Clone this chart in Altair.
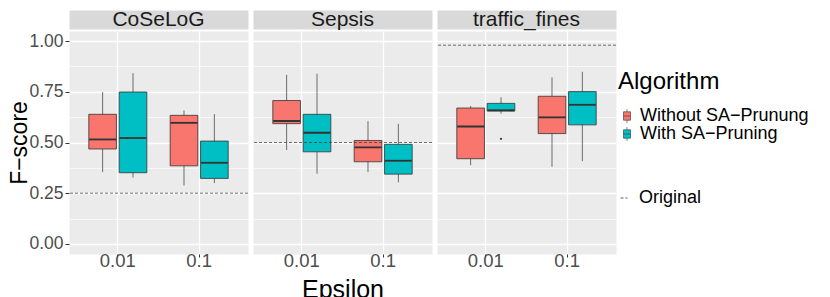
import altair as alt
import pandas as pd

FONT = "Liberation Sans"

datasets = ["CoSeLoG", "Sepsis", "traffic_fines"]
epsilons = ["0.01", "0.1"]
algorithms = ["Without SA−Prunung", "With SA−Pruning"]

# one row per box: dataset, epsilon, algorithm
box_dataset = ["CoSeLoG"] * 4 + ["Sepsis"] * 4 + ["traffic_fines"] * 4
box_eps = ["0.01", "0.01", "0.1", "0.1"] * 3
box_alg = [algorithms[0], algorithms[1]] * 6
box_lower = [0.354, 0.327, 0.288, 0.300, 0.463, 0.346, 0.354, 0.304, 0.388, 0.642, 0.380, 0.408]
box_q1 = [0.468, 0.351, 0.385, 0.323, 0.593, 0.454, 0.405, 0.344, 0.420, 0.655, 0.544, 0.587]
box_median = [0.515, 0.522, 0.597, 0.400, 0.606, 0.548, 0.476, 0.410, 0.579, 0.659, 0.624, 0.686]
box_q3 = [0.639, 0.749, 0.634, 0.507, 0.707, 0.639, 0.510, 0.491, 0.670, 0.693, 0.728, 0.751]
box_upper = [0.749, 0.842, 0.658, 0.640, 0.834, 0.839, 0.605, 0.592, 0.680, 0.723, 0.821, 0.849]

outlier_dataset = ["traffic_fines"]
outlier_eps = ["0.01"]
outlier_alg = [algorithms[1]]
outlier_value = [0.518]

original_value = [0.25, 0.50, 0.98]

df = pd.DataFrame({
    "dataset": box_dataset, "eps": box_eps, "alg": box_alg,
    "lower": box_lower, "q1": box_q1, "median": box_median,
    "q3": box_q3, "upper": box_upper,
})
out_df = pd.DataFrame({"dataset": outlier_dataset, "eps": outlier_eps,
                       "alg": outlier_alg, "value": outlier_value})
orig_df = pd.DataFrame({"dataset": datasets, "orig": original_value,
                        "kind": ["Original"] * len(datasets)})

PW, PH, SH = 179, 223, 19
DARK = "#333333"
yvals = [i * 0.125 for i in range(9)]
major_test = "datum.value % 0.25 == 0"
ysc = alt.Scale(domain=[-0.05, 1.05], nice=False, zero=False)

BOX_PATH = ("M-0.5,-0.6H0.5V0.6H-0.5Z M-0.5,0H0.5 M0,-0.6V-1 M0,0.6V1")

leg_alg = alt.Legend(title="Algorithm", orient="none", legendX=549, legendY=60,
                     symbolType=BOX_PATH, symbolSize=196, symbolStrokeColor=DARK,
                     symbolStrokeWidth=0.6, labelFontSize=18, titleFontSize=24,
                     titleFontWeight="normal", titlePadding=13, labelOffset=4,
                     rowPadding=0, padding=0, labelColor="black", titleColor="black",
                     labelFont=FONT, titleFont=FONT, symbolOpacity=1, labelLimit=260)
leg_orig = alt.Legend(title=None, orient="none", legendX=546, legendY=179,
                      symbolType="stroke", symbolSize=49, symbolStrokeColor=DARK,
                      symbolStrokeWidth=0.8, labelFontSize=18, labelOffset=6,
                      padding=0, labelColor="black", labelFont=FONT, labelLimit=260)


def y_axis(first):
    grid_w = {"condition": {"test": major_test, "value": 1.3}, "value": 0.6}
    if first:
        return alt.Axis(values=yvals,
                        labelExpr="datum.value % 0.25 == 0 ? format(datum.value, '.2f') : ''",
                        grid=True, gridColor="white", gridWidth=grid_w,
                        tickColor=DARK, tickSize=4, tickWidth=1,
                        tickOpacity={"condition": {"test": major_test, "value": 1}, "value": 0},
                        labelPadding=2, labelFontSize=17.5, labelColor="#4D4D4D",
                        labelFont=FONT, titleFont=FONT,
                        titleFontSize=23, titleFontWeight="normal", titleColor="black",
                        titlePadding=-3, domain=False)
    return alt.Axis(values=yvals, labels=False, ticks=False, domain=False,
                    grid=True, gridColor="white", gridWidth=grid_w)


def x_axis():
    return alt.Axis(labelAngle=0, grid=True, gridColor="white", gridWidth=1.3,
                    bandPosition=0.5, tickColor=DARK, tickSize=3, labelFontSize=18.5,
                    labelColor="#4D4D4D", labelBaseline="alphabetic", labelPadding=9,
                    domain=False, labelFont=FONT, titleFont=FONT,
                    titleFontSize=25, titleFontWeight="normal", titleColor="black",
                    titlePadding=8)


def panel(i, name):
    first = i == 0
    xt = "Epsilon" if i == 1 else None
    yt = "F−score" if first else None
    ya = y_axis(first)
    x = alt.X("eps:N", scale=alt.Scale(domain=epsilons, paddingInner=0.287, paddingOuter=0.2435),
              axis=x_axis(), title=xt)
    xo = alt.XOffset("alg:N", scale=alt.Scale(domain=algorithms, paddingInner=0.09, paddingOuter=0))

    def Y(field):
        return alt.Y(field + ":Q", scale=ysc, axis=ya, title=yt)

    base = alt.Chart(df).transform_filter(alt.datum.dataset == name)
    whisk = base.mark_rule(color=DARK, strokeWidth=0.7).encode(x=x, xOffset=xo, y=Y("lower"), y2="upper:Q")
    box = base.mark_bar(stroke=DARK, strokeWidth=0.8, opacity=1).encode(
        x=x, xOffset=xo, y=Y("q1"), y2="q3:Q",
        color=alt.Color("alg:N", scale=alt.Scale(domain=algorithms, range=["#F8766D", "#00BFC4"]),
                        legend=leg_alg))
    med = base.mark_tick(color=DARK, thickness=1.8, size=27, opacity=1).encode(x=x, xOffset=xo, y=Y("median"))
    outl = alt.Chart(out_df).transform_filter(alt.datum.dataset == name).mark_point(
        filled=True, size=5, color=DARK, opacity=1).encode(x=x, xOffset=xo, y=Y("value"))
    orig = alt.Chart(orig_df).transform_filter(alt.datum.dataset == name).mark_rule(
        color=DARK, strokeWidth=0.7).encode(
        y=Y("orig"),
        strokeDash=alt.StrokeDash("kind:N", scale=alt.Scale(domain=["Original"], range=[[3, 2]]),
                                  legend=leg_orig))
    main = alt.layer(whisk, box, med, outl, orig).properties(
        width=PW, height=PH, view=alt.ViewBackground(fill="#EBEBEB", stroke="transparent"))
    strip = alt.Chart(pd.DataFrame({"name": [name]})).mark_text(
        font=FONT, fontSize=21, color="#1A1A1A").encode(text="name:N").properties(
        width=PW, height=SH, view=alt.ViewBackground(fill="#D9D9D9", stroke="transparent"))
    return alt.vconcat(strip, main, spacing=0)


chart = alt.hconcat(*[panel(i, n) for i, n in enumerate(datasets)], spacing=3).resolve_scale(
    color="shared", strokeDash="shared").properties(padding=0).configure(font=FONT)

chart.save("out.html", embed_options={"renderer": "svg", "actions": False})
